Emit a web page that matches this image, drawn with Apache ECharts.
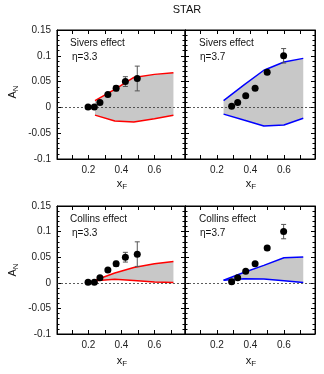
<!DOCTYPE html>
<html>
<head>
<meta charset="utf-8">
<script src="https://cdn.jsdelivr.net/npm/echarts@6/dist/echarts.min.js"></script>
<style>
  html, body { margin: 0; padding: 0; background: #fff; }
  #chart { width: 324px; height: 374px; }
</style>
</head>
<body>
<div id="chart"></div>
<script>
// STAR data, eta = 3.3
const xF33 = [0.198, 0.236, 0.270, 0.318, 0.368, 0.424, 0.496]
const aN33 = [0.001, 0.001, 0.0097, 0.025, 0.037, 0.050, 0.056]
const err33 = [0.001, 0.001, 0.002, 0.002, 0.005, 0.0095, 0.024]
// STAR data, eta = 3.7
const xF37 = [0.288, 0.324, 0.372, 0.428, 0.500, 0.598]
const aN37 = [0.002, 0.0097, 0.0225, 0.037, 0.068, 0.100]
const err37 = [0.001, 0.001, 0.002, 0.002, 0.004, 0.014]

// bands
const bandX33 = [0.24, 0.36, 0.475, 0.60, 0.715]
const bandX37 = [0.24, 0.36, 0.48, 0.60, 0.715]
const siversUp33 = [0.013, 0.035, 0.058, 0.064, 0.067]
const siversLo33 = [-0.015, -0.0265, -0.0285, -0.022, -0.015]
const siversUp37 = [0.013, 0.043, 0.072, 0.088, 0.095]
const siversLo37 = [-0.013, -0.0246, -0.036, -0.034, -0.021]
const collinsUp33 = [0.005, 0.019, 0.030, 0.037, 0.0415]
const collinsLo33 = [0.004, 0.007, 0.0045, 0.0015, 0.0005]
const collinsUp37 = [0.005, 0.020, 0.034, 0.049, 0.0505]
const collinsLo37 = [0.005, 0.0078, 0.0072, 0.004, 0.0006]

const xTicks = [0.1, 0.2, 0.3, 0.4, 0.5, 0.6, 0.7]
const xLabels = [0.2, 0.4, 0.6]

const font = "'Liberation Sans', Arial, sans-serif"
const grids = [
  { left: 57, top: 30, width: 128, height: 129 },
  { left: 185, top: 30, width: 130, height: 129 },
  { left: 57, top: 206, width: 128, height: 128 },
  { left: 185, top: 206, width: 130, height: 128 }
].map(g => Object.assign(g, { show: true, borderColor: '#000', borderWidth: 1 }))

const xAxes = []
const yAxes = []
grids.forEach((g, i) => {
  const base = {
    gridIndex: i, type: 'value', min: 0.01, max: 0.785,
    axisLine: { show: true, onZero: false, lineStyle: { color: '#000', width: 1 } },
    splitLine: { show: false }
  }
  xAxes.push(Object.assign({}, base, {
    position: 'bottom',
    axisTick: { inside: true, length: 4, customValues: xTicks, lineStyle: { color: '#000' } },
    axisLabel: { customValues: xLabels, fontSize: 10, color: '#222', fontFamily: font, margin: 6 }
  }))
  xAxes.push(Object.assign({}, base, {
    position: 'top',
    axisTick: { inside: true, length: 4, customValues: xTicks, lineStyle: { color: '#000' } },
    axisLabel: { show: false }
  }))
  const ybase = {
    gridIndex: i, type: 'value', min: -0.1, max: 0.15, interval: 0.05,
    axisLine: { show: true, onZero: false, lineStyle: { color: '#000', width: 1 } },
    axisTick: { inside: true, length: 4, lineStyle: { color: '#000' } },
    minorTick: { show: true, splitNumber: 5, length: 2.5, lineStyle: { color: '#000' } },
    splitLine: { show: false }
  }
  yAxes.push(Object.assign({}, ybase, {
    position: 'left',
    axisLabel: { show: i % 2 === 0, fontSize: 10, color: '#222', fontFamily: font, margin: 6 }
  }))
  yAxes.push(Object.assign({}, ybase, {
    position: 'right',
    axisLabel: { show: false }
  }))
})

function panelSeries(i, bx, up, lo, color, xs, ys, es) {
  const xi = i * 2, yi = i * 2
  return [
    {
      // the band goes on the top / right axes (same scales) so they get drawn too
      type: 'custom', xAxisIndex: xi + 1, yAxisIndex: yi + 1, z: 1, silent: true,
      data: bx.map((x, k) => [x, lo[k], up[k]]),
      encode: { x: 0, y: [1, 2] },
      renderItem: (params, api) => {
        if (params.dataIndex !== 0) return
        const pts = []
        bx.forEach((x, k) => pts.push(api.coord([x, up[k]])))
        for (let k = bx.length - 1; k >= 0; k--) pts.push(api.coord([bx[k], lo[k]]))
        return { type: 'polygon', shape: { points: pts }, style: { fill: '#c8c8c8' } }
      }
    },
    {
      type: 'line', xAxisIndex: xi, yAxisIndex: yi, z: 3, symbol: 'none',
      data: bx.map((x, k) => [x, up[k]]),
      lineStyle: { color: color, width: 1.5 },
      markLine: {
        silent: true, symbol: 'none', label: { show: false },
        lineStyle: { color: '#333', type: [2, 2], width: 0.8 },
        data: [{ yAxis: 0 }]
      }
    },
    {
      type: 'line', xAxisIndex: xi, yAxisIndex: yi, z: 3, symbol: 'none',
      data: bx.map((x, k) => [x, lo[k]]),
      lineStyle: { color: color, width: 1.5 }
    },
    {
      type: 'custom', xAxisIndex: xi, yAxisIndex: yi, z: 4, silent: true,
      data: xs.map((x, k) => [x, ys[k] - es[k], ys[k] + es[k]]),
      encode: { x: 0, y: [1, 2] },
      renderItem: (params, api) => {
        const lo = api.coord([api.value(0), api.value(1)])
        const hi = api.coord([api.value(0), api.value(2)])
        const st = { stroke: '#555', lineWidth: 1 }
        return {
          type: 'group', children: [
            { type: 'line', shape: { x1: lo[0], y1: lo[1], x2: hi[0], y2: hi[1] }, style: st },
            { type: 'line', shape: { x1: lo[0] - 2.5, y1: lo[1], x2: lo[0] + 2.5, y2: lo[1] }, style: st },
            { type: 'line', shape: { x1: hi[0] - 2.5, y1: hi[1], x2: hi[0] + 2.5, y2: hi[1] }, style: st }
          ]
        }
      }
    },
    {
      type: 'scatter', xAxisIndex: xi, yAxisIndex: yi, z: 5,
      symbol: 'circle', symbolSize: 7,
      itemStyle: { color: '#000', opacity: 1 },
      data: xs.map((x, k) => [x, ys[k]])
    }
  ]
}

function txt(x, y, s, extra) {
  return Object.assign({
    type: 'text', x: x, y: y,
    style: { text: s, font: '10px ' + font, fill: '#111', textVerticalAlign: 'middle' }
  }, extra || {})
}

function richLabel(x, y, main, sub, rot) {
  return {
    type: 'text', x: x, y: y, rotation: rot || 0,
    style: {
      text: '{m|' + main + '}{s|' + sub + '}',
      align: 'center', verticalAlign: 'middle',
      rich: {
        m: { fontSize: 11, fontFamily: font, fill: '#111' },
        s: { fontSize: 8, fontFamily: font, fill: '#111', padding: [6, 0, 0, 0] }
      }
    }
  }
}

const chart = echarts.init(document.getElementById('chart'))
chart.setOption({
  animation: false,
  backgroundColor: '#fff',
  grid: grids,
  xAxis: xAxes,
  yAxis: yAxes,
  series: [].concat(
    panelSeries(0, bandX33, siversUp33, siversLo33, '#ff0000', xF33, aN33, err33),
    panelSeries(1, bandX37, siversUp37, siversLo37, '#0000ff', xF37, aN37, err37),
    panelSeries(2, bandX33, collinsUp33, collinsLo33, '#ff0000', xF33, aN33, err33),
    panelSeries(3, bandX37, collinsUp37, collinsLo37, '#0000ff', xF37, aN37, err37)
  ),
  graphic: [
    txt(187, 10, 'STAR', { style: { text: 'STAR', font: '11px ' + font, fill: '#111', textAlign: 'center', textVerticalAlign: 'middle' } }),
    txt(70, 43, 'Sivers effect'),
    txt(72, 57, 'η=3.3'),
    txt(199, 43, 'Sivers effect'),
    txt(200, 57, 'η=3.7'),
    txt(70, 219, 'Collins effect'),
    txt(72, 233, 'η=3.3'),
    txt(199, 219, 'Collins effect'),
    txt(200, 233, 'η=3.7'),
    richLabel(13, 92, 'A', 'N', Math.PI / 2),
    richLabel(13, 270, 'A', 'N', Math.PI / 2),
    richLabel(122, 184, 'x', 'F'),
    richLabel(251, 184, 'x', 'F'),
    richLabel(122, 361, 'x', 'F'),
    richLabel(251, 361, 'x', 'F')
  ]
})
</script>
</body>
</html>
